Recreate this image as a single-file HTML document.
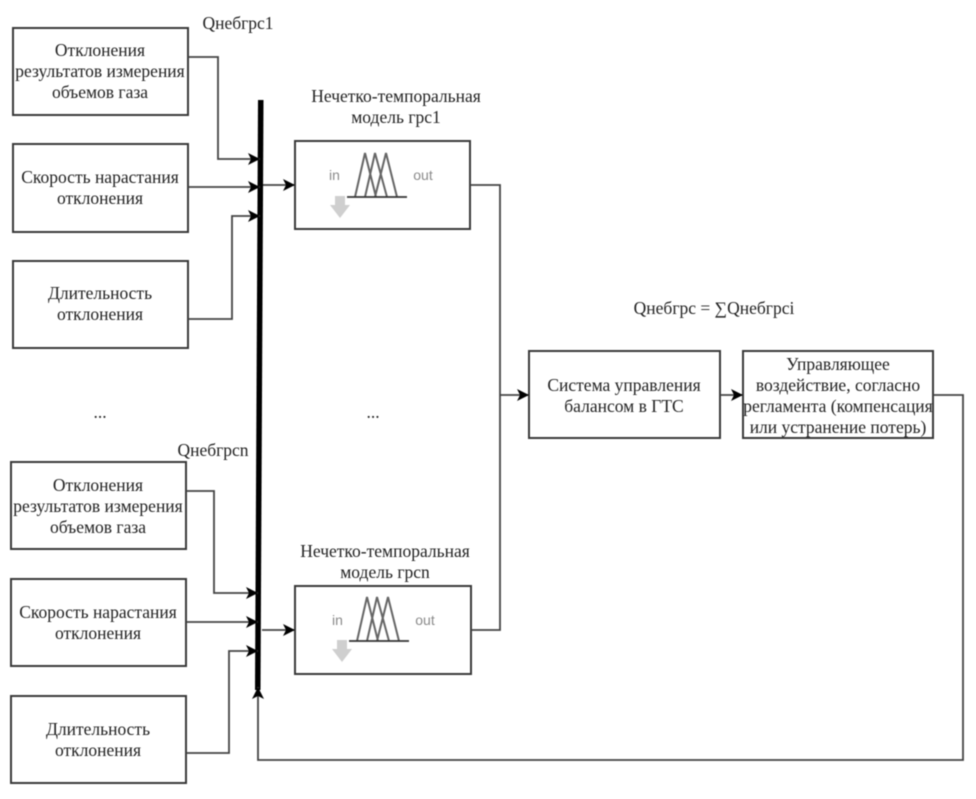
<!DOCTYPE html>
<html>
<head>
<meta charset="utf-8">
<style>
html,body{margin:0;padding:0;background:#fff;width:976px;height:799px;overflow:hidden}
svg{display:block;filter:blur(0.45px)}
text{font-family:"Liberation Serif",serif;font-size:17.5px;fill:#222;text-anchor:middle}
text.s{font-family:"Liberation Sans",sans-serif;font-size:14px;fill:#8a8a8a}
.b{fill:#fff;stroke:#3a3a3a;stroke-width:2}
.l{fill:none;stroke:#444;stroke-width:1.8}
.m{fill:none;stroke:#666;stroke-width:2}
</style>
</head>
<body>
<svg width="976" height="799" viewBox="0 0 976 799" xmlns="http://www.w3.org/2000/svg">
<defs>
<marker id="a" markerWidth="13" markerHeight="14" refX="12" refY="7" orient="auto" markerUnits="userSpaceOnUse">
<path d="M0 1 L12 7 L0 13 L3 7 Z" fill="#000"/>
</marker>
<g id="fz">
<path class="m" d="M0 55 L10 11 L21 55 M10 55 L20 11 L32 55 M20 55 L31 11 L42 55"/>
<path d="M-8 55 H52" stroke="#333" stroke-width="1.8" fill="none"/>
<path d="M-20 54 h10 v9 h5 l-10 13 l-10 -13 h5 z" fill="#cfcfcf"/>
</g>
</defs>

<rect class="b" x="13" y="28" width="175" height="87"/>
<rect class="b" x="13" y="144" width="175" height="88"/>
<rect class="b" x="13" y="261" width="175" height="87"/>
<rect class="b" x="11" y="462" width="175" height="87"/>
<rect class="b" x="11" y="579" width="175" height="87"/>
<rect class="b" x="11" y="696" width="175" height="87"/>
<rect class="b" x="295" y="141" width="175" height="88"/>
<rect class="b" x="295" y="586" width="176" height="88"/>
<rect class="b" x="529" y="351" width="191" height="87"/>
<rect class="b" x="743" y="351" width="190" height="87"/>

<polygon points="258,100 263.500,100 260.500,690 255,690" fill="#000"/>

<path class="l" marker-end="url(#a)" d="M188 57 H218 V159 H260"/>
<path class="l" marker-end="url(#a)" d="M188 187 H260"/>
<path class="l" marker-end="url(#a)" d="M188 319 H232 V216 H260"/>
<path class="l" marker-end="url(#a)" d="M186 491 H214 V593 H258"/>
<path class="l" marker-end="url(#a)" d="M186 622 H258"/>
<path class="l" marker-end="url(#a)" d="M186 753 H229 V651 H258"/>
<path class="l" marker-end="url(#a)" d="M263 185 H295"/>
<path class="l" marker-end="url(#a)" d="M262 630 H295"/>
<path class="l" d="M470 185 H500 V630 H471"/>
<path class="l" marker-end="url(#a)" d="M500 395 H529"/>
<path class="l" marker-end="url(#a)" d="M720 395 H743"/>
<path class="l" marker-end="url(#a)" d="M933 395 H963 V760 H258 V687"/>

<use href="#fz" x="355" y="142"/>
<use href="#fz" x="357" y="586"/>
<text class="s" x="334.500" y="180">in</text>
<text class="s" x="423" y="180">out</text>
<text class="s" x="337.500" y="625">in</text>
<text class="s" x="425" y="625">out</text>

<text x="100" y="56">Отклонения</text>
<text x="100" y="77">результатов измерения</text>
<text x="100" y="98">объемов газа</text>
<text x="100" y="183">Скорость нарастания</text>
<text x="100" y="204">отклонения</text>
<text x="100" y="299">Длительность</text>
<text x="100" y="320">отклонения</text>
<text x="98" y="491">Отклонения</text>
<text x="98" y="512">результатов измерения</text>
<text x="98" y="533">объемов газа</text>
<text x="98" y="618">Скорость нарастания</text>
<text x="98" y="639">отклонения</text>
<text x="98" y="735">Длительность</text>
<text x="98" y="756">отклонения</text>
<text x="238" y="29">Qнебгрс1</text>
<text x="213" y="456">Qнебгрсn</text>
<text x="396" y="102">Нечетко-темпоральная</text>
<text x="396" y="123">модель грс1</text>
<text x="385" y="557">Нечетко-темпоральная</text>
<text x="385" y="578">модель грсn</text>
<text x="100" y="418">...</text>
<text x="373" y="418">...</text>
<text x="714" y="314">Qнебгрс = ∑Qнебгрсi</text>
<text x="624" y="391">Система управления</text>
<text x="624" y="412">балансом в ГТС</text>
<text x="838" y="370">Управляющее</text>
<text x="838" y="391">воздействие, согласно</text>
<text x="838" y="412">регламента (компенсация</text>
<text x="838" y="433">или устранение потерь)</text>
</svg>
</body>
</html>
